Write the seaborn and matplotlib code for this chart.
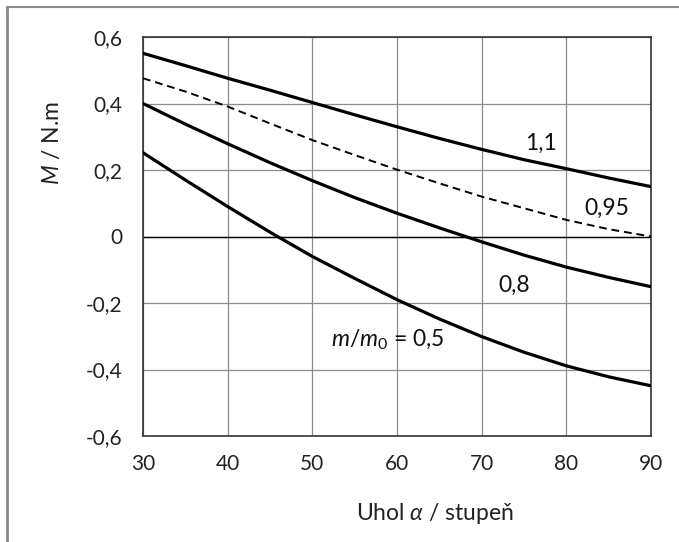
import matplotlib
matplotlib.use("Agg")
import matplotlib.pyplot as plt
from matplotlib.lines import Line2D
from matplotlib.ticker import FuncFormatter
import pandas as pd
import seaborn as sns

alpha = [30, 35, 40, 45, 50, 55, 60, 65, 70, 75, 80, 85, 90]
m_11 = [0.551, 0.514, 0.476, 0.44, 0.403, 0.366, 0.33, 0.295, 0.262, 0.231, 0.204, 0.176, 0.15]
m_095 = [0.476, 0.436, 0.391, 0.34, 0.29, 0.245, 0.201, 0.16, 0.12, 0.085, 0.05, 0.022, 0.0]
m_08 = [0.40, 0.338, 0.279, 0.222, 0.168, 0.117, 0.07, 0.026, -0.016, -0.056, -0.092, -0.123, -0.151]
m_05 = [0.252, 0.17, 0.09, 0.013, -0.06, -0.126, -0.19, -0.248, -0.301, -0.348, -0.389, -0.422, -0.449]

labels = ["1,1", "0,95", "0,8", "$m/m_0$ = 0,5"]
label_pos = [(77.0, 0.28), (84.8, 0.085), (73.9, -0.146), (58.9, -0.311)]

sns.set_theme(style="white")
plt.rcParams["font.family"] = ["Lato", "DejaVu Sans"]
plt.rcParams["mathtext.fontset"] = "custom"
plt.rcParams["mathtext.it"] = "Lato:italic"
plt.rcParams["mathtext.rm"] = "Lato"

fig = plt.figure(figsize=(6.79, 5.42), dpi=100)
ax = fig.add_axes([143 / 679, 1 - 436 / 542, 508 / 679, 399 / 542])

series = [(m_11, "-"), (m_095, "--"), (m_08, "-"), (m_05, "-")]
for values, ls in series:
    df = pd.DataFrame({"alpha": alpha, "M": values})
    lw = 1.4 if ls == "--" else 2.3
    sns.lineplot(data=df, x="alpha", y="M", ax=ax, color="black", lw=lw, linestyle=ls, zorder=3)
ax.lines[1].set_dashes([4, 2.5])

ax.axhline(0, color="black", lw=1.0, zorder=2)
ax.set_xlim(30, 90)
ax.set_ylim(-0.6, 0.6)
ax.set_xticks(range(30, 91, 10))
ax.set_yticks([-0.6, -0.4, -0.2, 0, 0.2, 0.4, 0.6])
ax.yaxis.set_major_formatter(FuncFormatter(lambda v, p: "0" if abs(v) < 1e-9 else f"{v:.1f}".replace(".", ",")))
ax.grid(True, color="#8c8c8c", lw=0.9)
ax.set_axisbelow(True)
for s in ax.spines.values():
    s.set_color("#333333")
    s.set_linewidth(1.2)
ax.tick_params(axis="y", labelsize=15, colors="#222222", pad=15, length=0)
ax.tick_params(axis="x", labelsize=15, colors="#222222", pad=13, length=0)

for text, (x, y) in zip(labels, label_pos):
    ax.text(x, y, text, ha="center", va="center", fontsize=16.5, color="#111111", zorder=4,
            bbox=dict(facecolor="white", edgecolor="none", pad=0.5) if text == "0,95" else None)

ax.set_xlabel(r"Uhol $\alpha$ / stupeň", fontsize=16.5, color="#222222")
ax.set_ylabel(r"$M$ / N.m", fontsize=16.5, color="#222222")
ax.xaxis.set_label_coords(0.575, -0.193)
ax.xaxis.label.set_va("center")
ax.yaxis.set_label_coords(-0.179, 0.734)
ax.yaxis.label.set_va("center")

fig.add_artist(Line2D([7 / 679, 7 / 679], [0, 1 - 7 / 542], transform=fig.transFigure, color="#8a8a8a", lw=2))
fig.add_artist(Line2D([7 / 679, 1], [1 - 7 / 542, 1 - 7 / 542], transform=fig.transFigure, color="#8a8a8a", lw=1.5))

fig.savefig("out.png", dpi=100)
